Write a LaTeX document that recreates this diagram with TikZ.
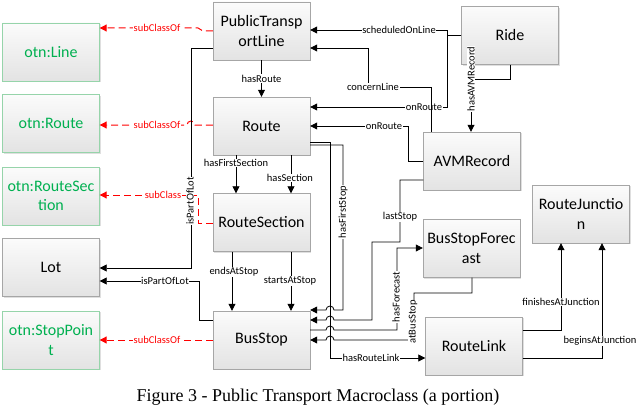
\documentclass[tikz,border=0pt]{standalone}
\usepackage{fontspec}
\setmainfont{Carlito}
\newfontfamily\capfont{Liberation Serif}
\usepackage{tikz}
\usetikzlibrary{shapes,
           calc,
           positioning,
           arrows.meta,
           shadows}
\definecolor{otngreen}{RGB}{0,176,80}
\definecolor{otnborder}{RGB}{150,212,170}
\definecolor{dashred}{RGB}{255,0,0}
\tikzset{
  cls/.style={draw=gray!70,top color=gray!3,bottom color=gray!22,minimum width=97pt,minimum height=58pt,
    align=center,inner sep=2pt,font=\fontsize{16}{19.5}\selectfont,
    drop shadow={opacity=0.25,shadow xshift=1.2pt,shadow yshift=-1.2pt}},
  otn/.style={cls,draw=otnborder,text=otngreen},
  rel/.style={line width=0.8pt,-{Triangle[width=7pt,length=7pt]}},
  sub/.style={rel,line width=1pt,dash pattern=on 7pt off 4pt,draw=dashred,-{Triangle[width=7pt,length=7pt,fill=dashred]}},
  lbl/.style={fill=white,inner sep=0.6pt,font=\fontsize{10.5}{12}\selectfont},
  sublbl/.style={lbl,text=dashred}
}
\begin{document}
\begin{tikzpicture}[x=1pt,y=-1pt]
\useasboundingbox (0,0) rectangle (640,412);
\node[cls](PTL)at(261.5,31){PublicTransp\\ortLine};
\node[cls](Route)at(261.5,126){Route};
\node[cls](RS)at(261.5,222.5){RouteSection};
\node[cls](BS)at(261.5,340){BusStop};
\node[otn](Line)at(51,52){otn:Line};
\node[otn](oRoute)at(51,123.5){otn:Route};
\node[otn](oRS)at(51,196){otn:RouteSec\\tion};
\node[cls](Lot)at(51,267.5){Lot};
\node[otn](SP)at(51,340){otn:StopPoin\\t};
\node[cls](Ride)at(510,35.5){Ride};
\node[cls](AVM)at(472,161){AVMRecord};
\node[cls](BSF)at(471.5,248.5){BusStopForec\\ast};
\node[cls](RJ)at(581,214){RouteJunctio\\n};
\node[cls](RL)at(474,346){RouteLink};
\draw[rel](Ride.west|-0,35)-|(447,30)--(PTL.east|-0,30);
\node[lbl](l1)at(399,30){scheduledOnLine};
\draw[rel](Ride.west|-0,35)-|(447,107)--(Route.east|-0,107);
\node[lbl](l2)at(424,107){onRoute};
\draw[rel](AVM.north-|431,0)--(431,87)-|(368,48)--(PTL.east|-0,48);
\node[lbl](l3)at(373,87){concernLine};
\draw[rel](AVM.west|-0,161)-|(408,126)--(Route.east|-0,126);
\node[lbl](l4)at(384,126){onRoute};
\draw[rel](Ride.south-|510,0)--(510,79)-|(AVM.north-|471,0);
\node[lbl,rotate=90](l5)at(471,79){hasAVMRecord};
\draw[rel](PTL)--(Route)node[lbl,midway]{hasRoute};
\draw[rel](Route.south-|236,0)--(RS.north-|236,0);
\node[lbl](l6)at(236,163){hasFirstSection};
\draw[rel](Route.south-|291,0)--(RS.north-|291,0);
\node[lbl](l7)at(290,178){hasSection};
\draw[rel](RS.south-|232,0)--(BS.north-|232,0);
\node[lbl](l8)at(234,272){endsAtStop};
\draw[rel](RS.south-|291,0)--(BS.north-|291,0);
\node[lbl](l9)at(290,281){startsAtStop};
\draw[rel](Route.east|-0,142)-|(330,358)--(RL.west|-0,358);
\node[lbl](l10)at(371,358){hasRouteLink};
\draw[rel](Route.east|-0,145)-|(343,310)--(334,310)arc[start angle=0,end angle=180,radius=4pt]--(BS.east|-0,310);
\node[lbl,rotate=90](l11)at(343,212){hasFirstStop};
\draw[rel](AVM.west|-0,180)-|(400,242)-|(372,320)--(334,320)arc[start angle=0,end angle=180,radius=4pt]--(BS.east|-0,320);
\node[lbl](l12)at(400,217){lastStop};
\draw[rel](BS.east|-0,330)--(326,330)arc[start angle=180,end angle=0,radius=4pt]-|(397,248)--(BSF.west|-0,248);
\node[lbl,rotate=90](l13)at(396,297){hasForecast};
\draw[rel](BSF.south-|472,0)--(472,293)-|(414,340)--(334,340)arc[start angle=0,end angle=180,radius=4pt]--(BS.east|-0,340);
\node[lbl,rotate=90](l14)at(413,322){atBusStop};
\draw[rel](RL.east|-0,330)-|(RJ.south-|561,0);
\node[lbl](l15)at(561,302){finishesAtJunction};
\draw[rel](RL.east|-0,358)-|(RJ.south-|602,0);
\node[lbl](l16)at(600,341){beginsAtJunction};
\draw[sub](PTL.west|-0,31)--(203,31)--(198,28)--(Line.east|-0,28);
\node[sublbl](s1)at(157,28){subClassOf};
\draw[sub](Route.west|-0,125)--(195,125)arc[start angle=0,end angle=180,radius=4pt]--(oRoute.east|-0,125);
\node[sublbl](s2)at(157,125){subClassOf};
\draw[sub](RS.west|-0,223)-|(198,195)--(oRS.east|-0,195);
\node[sublbl](s3)at(163,195){subClass};
\draw[sub](BS.west|-0,340)--(SP.east|-0,340);
\node[sublbl](s4)at(157,340){subClassOf};
\draw[rel](PTL.west|-0,48)-|(191,268)--(Lot.east|-0,268);
\node[lbl,rotate=90](l17)at(190,201){isPartOfLot};
\draw[rel](BS.west|-0,320)-|(199,281)--(Lot.east|-0,281);
\node[lbl](l18)at(165,281){isPartOfLot};
\node[font=\capfont\fontsize{18}{20}\selectfont](cap)at(318,397){Figure 3 - Public Transport Macroclass (a portion)};
\end{tikzpicture}
\end{document}
